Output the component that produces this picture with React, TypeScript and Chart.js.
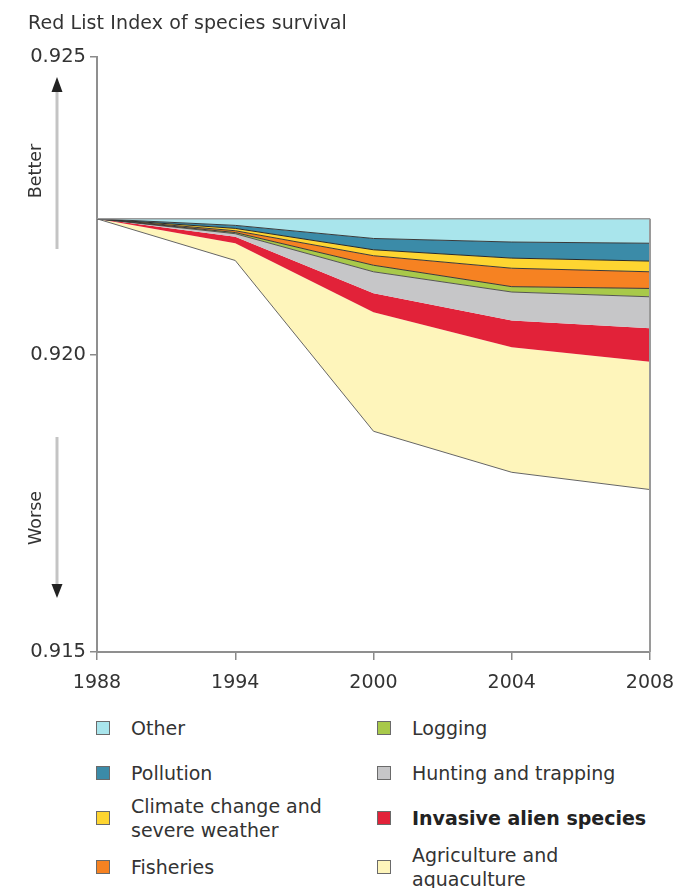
import React, { useEffect, useRef } from 'react';
import { Chart, registerables } from 'chart.js';

Chart.register(...registerables);

// ---------- data ----------
const years = ['1988', '1994', '2000', '2004', '2008'];
// Red List Index if no threat had caused declines (top of stack)
const noThreatIndex = [0.92228, 0.92228, 0.92228, 0.92228, 0.92228];
// Decline of the index attributed to each threat
const other = [0, 0.00011, 0.00033, 0.00039, 0.00041];
const pollution = [0, 0.00005, 0.00019, 0.00027, 0.0003];
const climate = [0, 0.00004, 0.0001, 0.00017, 0.00018];
const fisheries = [0, 0.00003, 0.00016, 0.00031, 0.00028];
const logging = [0, 0.00002, 0.00011, 0.00009, 0.00014];
const hunting = [0, 0.00005, 0.00036, 0.00048, 0.00053];
const invasive = [0, 0.00011, 0.00032, 0.00045, 0.00056];
const agriculture = [0, 0.00029, 0.002, 0.0021, 0.00215];
const yTicks = [0.915, 0.92, 0.925];
const yMin = 0.915;
const yMax = 0.925;

const titleText = 'Red List Index of species survival';

const bands = [
  { name: 'Other', values: other, color: '#a9e5ec', edge: '#3a3a3a' },
  { name: 'Pollution', values: pollution, color: '#3b8ba8', edge: '#2a2a2a' },
  { name: 'Climate change and severe weather', values: climate, color: '#fed531', edge: '#3a3a3a' },
  { name: 'Fisheries', values: fisheries, color: '#f68222', edge: '#3a3a3a' },
  { name: 'Logging', values: logging, color: '#a8c94a', edge: '#555555' },
  { name: 'Hunting and trapping', values: hunting, color: '#c6c6c8', edge: 'rgba(0,0,0,0)' },
  { name: 'Invasive alien species', values: invasive, color: '#e22239', edge: 'rgba(0,0,0,0)' },
  { name: 'Agriculture and aquaculture', values: agriculture, color: '#fef5bb', edge: '#666666' },
];

const FONT = '"DejaVu Sans", Verdana, sans-serif';
const TEXT = '#333333';

const legendCol1 = [
  { lines: ['Other'], color: '#a9e5ec', bold: false },
  { lines: ['Pollution'], color: '#3b8ba8', bold: false },
  { lines: ['Climate change and', 'severe weather'], color: '#fed531', bold: false },
  { lines: ['Fisheries'], color: '#f68222', bold: false },
];
const legendCol2 = [
  { lines: ['Logging'], color: '#a8c94a', bold: false },
  { lines: ['Hunting and trapping'], color: '#c6c6c8', bold: false },
  { lines: ['Invasive alien species'], color: '#e22239', bold: true },
  { lines: ['Agriculture and', 'aquaculture'], color: '#fef5bb', bold: false },
];
const legendRowCenters = [728, 773, 818, 867];

const rightEdgePlugin = {
  id: 'rightEdge',
  afterDatasetsDraw(chart: any) {
    const xs = chart.scales.x;
    const ys = chart.scales.y;
    const last = years.length - 1;
    const x = xs.getPixelForValue(last);
    const yTop = ys.getPixelForValue(noThreatIndex[last]);
    const ctx = chart.ctx;
    ctx.save();
    ctx.strokeStyle = '#9a9a9a';
    ctx.lineWidth = 2;
    ctx.beginPath();
    ctx.moveTo(x, yTop);
    ctx.lineTo(x, chart.chartArea.bottom);
    ctx.stroke();
    ctx.restore();
  },
};

function App() {
  const canvasRef = useRef<HTMLCanvasElement | null>(null);

  useEffect(() => {
    if (!canvasRef.current) return;
    const datasets: any[] = [
      {
        label: 'No threats',
        data: noThreatIndex,
        borderColor: '#9a9a9a',
        borderWidth: 1.5,
        pointRadius: 0,
        fill: false,
        tension: 0,
      },
    ];
    let cum = noThreatIndex.slice();
    bands.forEach((b) => {
      cum = cum.map((v, i) => v - b.values[i]);
      datasets.push({
        label: b.name,
        data: cum.slice(),
        borderColor: b.edge,
        borderWidth: 1,
        backgroundColor: b.color,
        pointRadius: 0,
        fill: '-1',
        tension: 0,
      });
    });

    const chart = new Chart(canvasRef.current, {
      type: 'line',
      data: { labels: years, datasets },
      plugins: [rightEdgePlugin],
      options: {
        responsive: false,
        animation: false,
        events: [],
        layout: { padding: { top: 57, right: 25, bottom: 8, left: 0 } },
        plugins: {
          legend: { display: false },
          tooltip: { enabled: false },
          title: { display: false },
        },
        scales: {
          x: {
            type: 'category',
            offset: false,
            grid: {
              display: true,
              drawOnChartArea: false,
              drawTicks: true,
              tickLength: 8,
              color: '#8a8a8a',
              lineWidth: 1.5,
            },
            border: { display: true, color: '#8f8f8f', width: 2 },
            ticks: {
              color: TEXT,
              font: { family: FONT, size: 19 },
              padding: 12,
              maxRotation: 0,
              autoSkip: false,
            },
            afterFit(scale: any) {
              scale.height = 40;
              scale.paddingLeft = 0;
              scale.paddingRight = 0;
            },
          },
          y: {
            type: 'linear',
            min: yMin,
            max: yMax,
            grid: {
              display: true,
              drawOnChartArea: false,
              drawTicks: true,
              tickLength: 7,
              color: '#8a8a8a',
              lineWidth: 1.5,
            },
            border: { display: true, color: '#8f8f8f', width: 2 },
            ticks: {
              color: TEXT,
              font: { family: FONT, size: 19.5 },
              padding: 4,
              callback: (v: any) => Number(v).toFixed(3),
            },
            afterBuildTicks(scale: any) {
              scale.ticks = yTicks.map((v) => ({ value: v }));
            },
            afterFit(scale: any) {
              scale.width = 97;
            },
          },
        },
      },
    });
    return () => chart.destroy();
  }, []);

  const legendItem = (item: any, x: number, cy: number, key: string) => {
    const lh = 24;
    const h = item.lines.length * lh;
    return (
      <div key={key}>
        <div
          style={{
            position: 'absolute',
            left: x,
            top: cy - 7,
            width: 12,
            height: 12,
            background: item.color,
            border: '1.5px solid #6a6a6a',
          }}
        />
        <div
          style={{
            position: 'absolute',
            left: x + 35,
            top: cy - h / 2,
            fontSize: 19,
            lineHeight: lh + 'px',
            fontWeight: item.bold ? 'bold' : 'normal',
            color: item.bold ? '#222' : TEXT,
            whiteSpace: 'nowrap',
          }}
        >
          {item.lines.map((l: string, i: number) => (
            <div key={i}>{l}</div>
          ))}
        </div>
      </div>
    );
  };

  return (
    <div
      style={{
        position: 'absolute',
        left: 0,
        top: 0,
        width: 675,
        height: 888,
        background: '#ffffff',
        overflow: 'hidden',
        fontFamily: FONT,
      }}
    >
      <canvas
        ref={canvasRef}
        width={675}
        height={700}
        style={{ position: 'absolute', left: 0, top: 0, width: 675, height: 700 }}
      />
      <div
        style={{
          position: 'absolute',
          left: 28,
          top: 10,
          fontSize: 19,
          letterSpacing: '0.1px',
          lineHeight: '24px',
          color: TEXT,
          whiteSpace: 'nowrap',
        }}
      >
        {titleText}
      </div>
      <svg
        width={80}
        height={700}
        style={{ position: 'absolute', left: 0, top: 0 }}
      >
        <line x1={57} y1={90} x2={57} y2={249} stroke="#c4c4c4" strokeWidth={3} />
        <polygon points="51.5,92 62.5,92 57,77" fill="#222" />
        <line x1={57} y1={437} x2={57} y2={586} stroke="#c4c4c4" strokeWidth={3} />
        <polygon points="51.5,584 62.5,584 57,598" fill="#222" />
      </svg>
      <div
        style={{
          position: 'absolute',
          left: 35,
          top: 171,
          transform: 'translate(-50%, -50%) rotate(-90deg)',
          fontSize: 17.5,
          lineHeight: '20px',
          color: TEXT,
          whiteSpace: 'nowrap',
        }}
      >
        Better
      </div>
      <div
        style={{
          position: 'absolute',
          left: 35,
          top: 518,
          transform: 'translate(-50%, -50%) rotate(-90deg)',
          fontSize: 17.5,
          lineHeight: '20px',
          color: TEXT,
          whiteSpace: 'nowrap',
        }}
      >
        Worse
      </div>
      {legendCol1.map((it, i) => legendItem(it, 96, legendRowCenters[i], 'a' + i))}
      {legendCol2.map((it, i) => legendItem(it, 377, legendRowCenters[i], 'b' + i))}
    </div>
  );
}

export default App;
